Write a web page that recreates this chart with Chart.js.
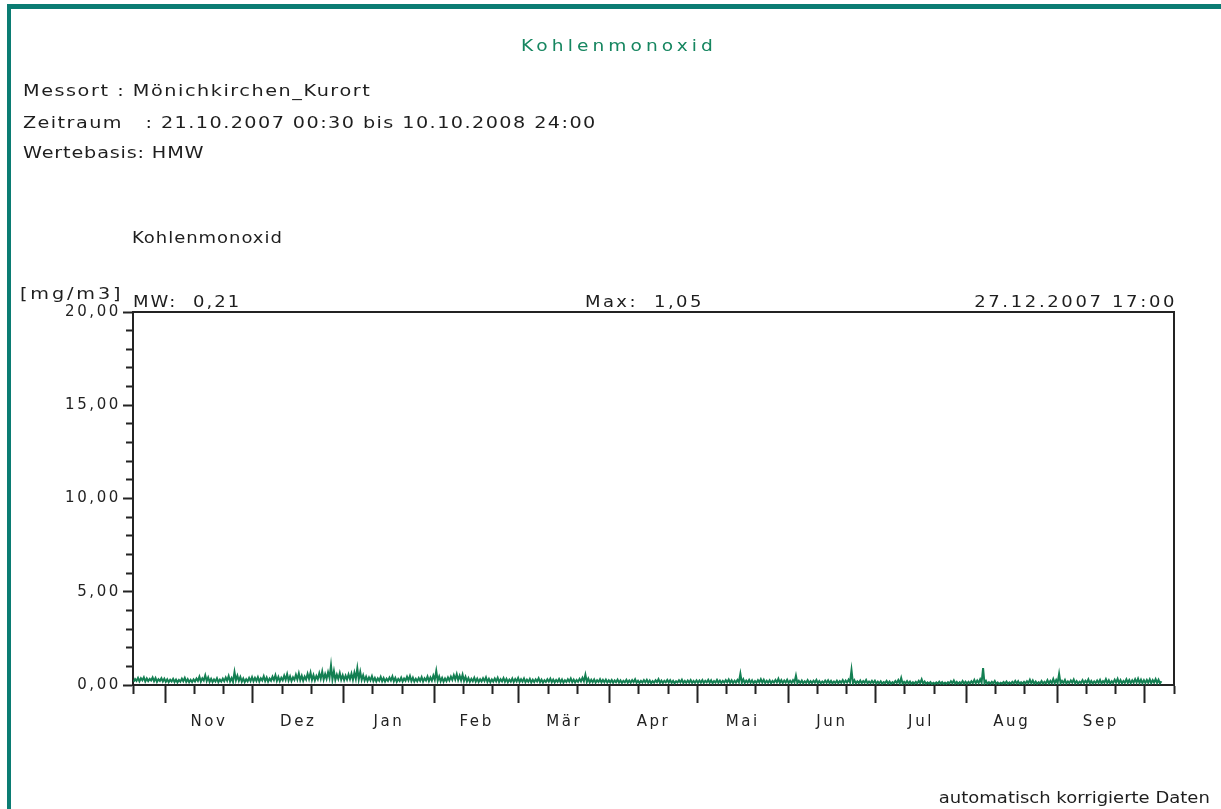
<!DOCTYPE html>
<html>
<head>
<meta charset="utf-8">
<title>Kohlenmonoxid – Mönichkirchen_Kurort</title>
<script src="https://cdn.jsdelivr.net/npm/chart.js@4.4.1/dist/chart.umd.min.js"></script>
<style>
  html, body { margin: 0; padding: 0; background: #fff; }
  #page { position: relative; width: 1221px; height: 809px; overflow: hidden; background: #fff; }
  #frame { position: absolute; left: 7px; top: 4px; width: 1240px; height: 830px;
           border-top: 5px solid #0b7c73; border-left: 4px solid #0b7c73; }
  #c { position: absolute; left: 0; top: 0; }
  /* wide, round lettering: DejaVu Sans stretched horizontally */
  .t { position: absolute; font-family: 'DejaVu Sans', sans-serif; color: #1e1e1e;
       white-space: pre; line-height: 1; transform: scaleX(1.2); transform-origin: left top; }
  .t.r { transform-origin: right top; }
  #title { left: 521px; top: 39px; font-size: 15.5px; letter-spacing: 3.4px; color: #168660; }
  #l1 { left: 23px; top: 83px; font-size: 16px; letter-spacing: 1.3px; }
  #l2 { left: 23px; top: 115px; font-size: 16px; letter-spacing: 1.2px; }
  #l3 { left: 23px; top: 145px; font-size: 16px; letter-spacing: 0.7px; }
  #sub { left: 132px; top: 231px; font-size: 15px; letter-spacing: 0.8px; }
  #unit { left: 20px; top: 286px; font-size: 16px; letter-spacing: 2.4px; }
  #mw { left: 133px; top: 295px; font-size: 15px; letter-spacing: 1.7px; }
  #mx { left: 585px; top: 295px; font-size: 15px; letter-spacing: 2px; }
  #dt { right: 44px; top: 295px; font-size: 15px; letter-spacing: 2.2px; }
  #foot { right: 11px; top: 791px; font-size: 15px; letter-spacing: 0px; }
</style>
</head>
<body>
<div id="page">
  <div id="frame"></div>
  <canvas id="c" width="1221" height="809"></canvas>
  <div class="t" id="title">Kohlenmonoxid</div>
  <div class="t" id="l1">Messort : Mönichkirchen_Kurort</div>
  <div class="t" id="l2">Zeitraum   : 21.10.2007 00:30 bis 10.10.2008 24:00</div>
  <div class="t" id="l3">Wertebasis: HMW</div>
  <div class="t" id="sub">Kohlenmonoxid</div>
  <div class="t" id="unit">[mg/m3]</div>
  <div class="t" id="mw"></div>
  <div class="t" id="mx"></div>
  <div class="t r" id="dt"></div>
  <div class="t r" id="foot">automatisch korrigierte Daten</div>
</div>
<script>
// Half-hourly CO values condensed to a daily low / daily high (mg/m3),
// day 0 = 21.10.2007, last day = 06.10.2008.
const dayMin = [
  // Okt 2007 (21.–31.)
  .18,.22,.20,.25,.19,.21,.24,.20,.17,.22,.19,
  // Nov
  .17,.15,.19,.16,.14,.18,.20,.17,.15,.16,.19,.22,.18,.24,.21,.17,.16,.19,.15,.18,.20,.23,.19,.17,.25,.22,.18,.16,.19,.21,
  // Dez
  .20,.22,.19,.24,.21,.18,.23,.26,.22,.20,.25,.28,.24,.21,.27,.30,.26,.23,.29,.32,.27,.25,.31,.34,.29,.33,.38,.30,.27,.32,.28,
  // Jan
  .26,.29,.31,.28,.33,.30,.27,.24,.22,.25,.21,.19,.23,.20,.18,.22,.24,.20,.17,.21,.19,.23,.25,.21,.18,.20,.22,.19,.24,.21,.23,
  // Feb
  .27,.23,.20,.18,.21,.24,.27,.29,.26,.25,.22,.19,.17,.20,.18,.16,.19,.21,.17,.15,.18,.20,.16,.19,.17,.15,.18,.16,.19,
  // Mär
  .16,.18,.15,.17,.14,.16,.19,.15,.13,.16,.18,.15,.14,.17,.15,.13,.16,.18,.15,.14,.17,.19,.20,.16,.14,.15,.13,.16,.14,.15,.13,
  // Apr
  .14,.12,.15,.13,.11,.14,.12,.13,.15,.12,.11,.13,.14,.12,.10,.13,.15,.12,.11,.14,.13,.12,.10,.13,.14,.11,.12,.13,.11,.12,
  // Mai
  .12,.13,.11,.14,.12,.10,.13,.12,.11,.13,.14,.12,.11,.13,.15,.12,.11,.13,.12,.10,.12,.14,.13,.11,.12,.10,.13,.14,.12,.11,.13,
  // Jun
  .11,.12,.14,.10,.11,.09,.12,.10,.11,.13,.10,.09,.11,.12,.10,.09,.11,.10,.12,.11,.13,.14,.10,.09,.11,.10,.12,.09,.10,.11,
  // Jul
  .08,.09,.07,.10,.08,.06,.09,.11,.08,.07,.09,.08,.06,.07,.09,.10,.08,.06,.07,.05,.06,.08,.07,.05,.06,.08,.09,.07,.06,.08,.07,
  // Aug
  .07,.08,.10,.09,.11,.12,.08,.06,.07,.09,.06,.05,.07,.08,.06,.07,.09,.08,.06,.07,.08,.10,.09,.07,.06,.08,.07,.09,.08,.10,.09,
  // Sep
  .10,.09,.11,.08,.10,.12,.09,.08,.11,.10,.12,.09,.08,.10,.11,.09,.12,.10,.08,.11,.13,.10,.09,.12,.11,.10,.12,.13,.11,.10,
  // Okt 2008 (1.–6.)
  .11,.12,.10,.13,.11,.09
];
const dayMax = [
  // Okt 2007
  .32,.38,.36,.41,.35,.33,.40,.37,.31,.36,.34,
  // Nov
  .30,.28,.33,.29,.27,.34,.38,.31,.28,.30,.35,.44,.36,.52,.41,.33,.30,.36,.29,.34,.40,.48,.37,.70,.50,.43,.35,.31,.38,.42,
  // Dez
  .38,.42,.36,.47,.40,.35,.44,.52,.43,.39,.50,.58,.46,.41,.55,.62,.49,.45,.60,.66,.53,.48,.63,.72,.58,.68,1.05,.74,.55,.64,.52,
  // Jan
  .50,.56,.61,.66,.90,.70,.52,.45,.41,.47,.38,.36,.43,.37,.34,.40,.46,.38,.32,.39,.35,.44,.48,.39,.33,.37,.42,.36,.45,.40,.50,
  // Feb
  .75,.46,.38,.35,.40,.45,.52,.58,.50,.55,.44,.37,.33,.39,.34,.31,.36,.41,.33,.30,.35,.39,.31,.37,.33,.29,.35,.32,.38,
  // Mär
  .31,.35,.29,.33,.28,.30,.36,.29,.26,.31,.34,.29,.27,.32,.30,.26,.31,.35,.29,.27,.33,.38,.55,.34,.28,.30,.26,.31,.27,.29,.25,
  // Apr
  .27,.24,.29,.25,.22,.28,.24,.26,.30,.23,.22,.26,.28,.24,.21,.25,.31,.24,.22,.27,.26,.23,.20,.25,.28,.22,.24,.26,.22,.25,
  // Mai
  .24,.26,.22,.28,.25,.21,.27,.24,.22,.26,.29,.25,.23,.27,.60,.30,.24,.27,.25,.21,.26,.31,.28,.23,.25,.22,.27,.33,.26,.24,.28,
  // Jun
  .23,.26,.50,.22,.24,.20,.26,.21,.23,.27,.21,.19,.24,.25,.22,.19,.23,.21,.26,.24,.29,.80,.25,.20,.24,.21,.27,.19,.22,.23,
  // Jul
  .18,.20,.16,.22,.19,.15,.21,.26,.38,.17,.21,.19,.15,.17,.22,.30,.19,.14,.16,.12,.14,.18,.16,.13,.15,.20,.24,.17,.15,.21,.18,
  // Aug
  .17,.20,.27,.24,.30,.90,.22,.15,.17,.21,.14,.12,.16,.19,.14,.17,.22,.20,.15,.17,.20,.28,.24,.18,.15,.21,.17,.26,.22,.32,.27,
  // Sep
  .60,.22,.27,.19,.24,.29,.21,.18,.26,.23,.30,.22,.19,.24,.27,.21,.31,.25,.20,.28,.33,.26,.22,.30,.27,.25,.31,.34,.28,.26,
  // Okt 2008
  .27,.30,.26,.31,.28,.20
];

// Axis extent in days (21.10.2007 00:00 … 11.10.2008 00:00)
const xMin = 0;
const xMax = 356;
// Day index of the 1st of each month, Nov 2007 … Okt 2008
const monthStartDays = [11, 41, 72, 103, 132, 163, 193, 224, 254, 285, 316, 346];
const monthLabels = ['Nov', 'Dez', 'Jan', 'Feb', 'Mär', 'Apr', 'Mai', 'Jun', 'Jul', 'Aug', 'Sep'];
const yMin = 0;
const yMax = 20;
const yLabelStep = 5;

// Summary figures shown above the plot
const meanValue = 0.21;
const maxValue = 1.05;
const maxTime = '27.12.2007 17:00';

const fmt = v => v.toFixed(2).replace('.', ',');
document.getElementById('mw').textContent = 'MW:  ' + fmt(meanValue);
document.getElementById('mx').textContent = 'Max:  ' + fmt(maxValue);
document.getElementById('dt').textContent = maxTime;

// Line trace: daily low at early hours, daily high in the late afternoon
const points = [];
dayMin.forEach((lo, d) => {
  points.push({ x: d + 0.2, y: lo });
  points.push({ x: d + 0.71, y: dayMax[d] });
});

// x-axis marks: 1st (long), 11th and 21st (short), month names mid-month
const majorSet = new Set(monthStartDays);
const labelAt = new Map();
for (let i = 0; i < monthLabels.length; i++) {
  labelAt.set((monthStartDays[i] + monthStartDays[i + 1]) / 2, monthLabels[i]);
}
const xTickValues = [xMin];
monthStartDays.forEach(m => { [m, m + 10, m + 20].forEach(v => { if (v <= xMax) xTickValues.push(v); }); });
labelAt.forEach((_, v) => xTickValues.push(v));
xTickValues.sort((a, b) => a - b);

const axisColor = '#232323';
const tickFont = { family: "'DejaVu Sans', sans-serif", size: 15 };

const spacing = {
  id: 'spacing',
  beforeDraw(chart) { chart.ctx.letterSpacing = '2.6px'; }
};

new Chart(document.getElementById('c'), {
  type: 'line',
  data: {
    datasets: [{
      data: points,
      borderColor: '#137f52',
      borderWidth: 2,
      pointRadius: 0,
      tension: 0,
      fill: false
    }]
  },
  options: {
    responsive: false,
    animation: false,
    events: [],
    layout: { padding: { left: 0, right: 47, top: 312, bottom: 0 } },
    plugins: { legend: { display: false }, tooltip: { enabled: false } },
    scales: {
      x: {
        type: 'linear',
        position: 'bottom',
        min: xMin,
        max: xMax,
        afterBuildTicks: s => { s.ticks = xTickValues.map(v => ({ value: v })); },
        afterFit: s => { s.height = 124; },
        grid: {
          drawOnChartArea: false,
          tickLength: 18,
          tickWidth: 2,
          tickColor: c => labelAt.has(c.tick && c.tick.value) ? 'rgba(0,0,0,0)' : axisColor,
          tickBorderDash: c => (c.tick && majorSet.has(c.tick.value)) ? [] : [8, 40]
        },
        border: { color: axisColor, width: 2 },
        ticks: {
          autoSkip: false,
          maxRotation: 0,
          padding: 10,
          color: '#222',
          font: tickFont,
          callback: v => labelAt.get(v) || ''
        }
      },
      y: {
        type: 'linear',
        position: 'left',
        min: yMin,
        max: yMax,
        afterFit: s => { s.width = 133; },
        grid: {
          drawOnChartArea: false,
          tickLength: 10,
          tickWidth: 2,
          tickColor: axisColor,
          tickBorderDash: c => (c.tick && c.tick.value % yLabelStep === 0) ? [] : [0, 3, 7, 0]
        },
        border: { color: axisColor, width: 2 },
        ticks: {
          stepSize: 1,
          autoSkip: false,
          padding: 2,
          color: '#222',
          font: tickFont,
          callback: v => (v % yLabelStep === 0) ? fmt(v) : ''
        }
      },
      xTop: {
        type: 'linear',
        position: 'top',
        min: xMin,
        max: xMax,
        afterFit: s => { s.height = 0; },
        grid: { display: false, drawTicks: false },
        ticks: { display: false },
        border: { color: axisColor, width: 2 }
      },
      yRight: {
        type: 'linear',
        position: 'right',
        min: yMin,
        max: yMax,
        afterFit: s => { s.width = 0; },
        grid: { display: false, drawTicks: false },
        ticks: { display: false },
        border: { color: axisColor, width: 2 }
      }
    }
  },
  plugins: [spacing]
});
</script>
</body>
</html>
